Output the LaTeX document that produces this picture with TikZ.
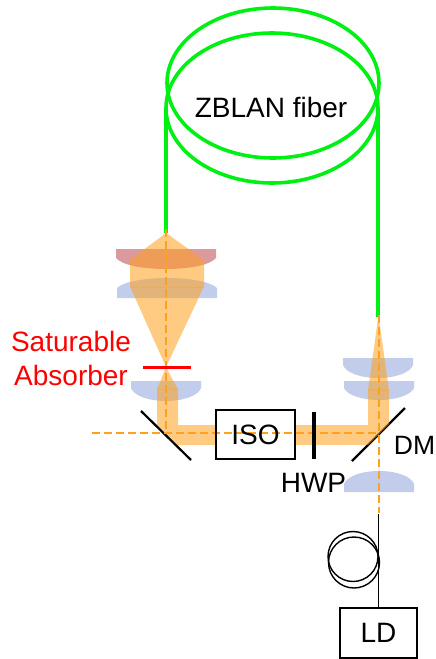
\documentclass[tikz,border=0pt]{standalone}
\usepackage{amsmath}
\usepackage{fontspec}
\setmainfont{Liberation Sans}
\usetikzlibrary{arrows}

\definecolor{fibergreen}{RGB}{0,240,20}
\definecolor{beamorange}{RGB}{255,160,30}
\definecolor{lensblue}{RGB}{68,104,190}
\definecolor{lensred}{RGB}{175,30,40}

\begin{document}
\begin{tikzpicture}[x=1pt,y=-1pt,semithick,
                    fiber/.style={draw=fibergreen,line width=3.6pt},
                    beam/.style={fill=beamorange,fill opacity=.55,draw=none},
                    axis/.style={draw=beamorange,line width=2pt,dash pattern=on 8pt off 4pt},
                    bluelens/.style={fill=lensblue,fill opacity=.33,draw=none},
                    redlens/.style={fill=lensred,fill opacity=.45,draw=none},
                    mirror/.style={draw=black,line width=2.2pt},
                    plate/.style={draw=black,line width=4pt},
                    box/.style={draw=black,line width=1.3pt,minimum width=79pt,minimum height=49pt,inner sep=0pt},
                    tag/.style={font=\fontsize{28}{30}\selectfont,inner sep=0pt},
                    wire/.style={draw=black,line width=1.4pt}]
 \useasboundingbox (0,0) rectangle (436,659);

 % fiber coil
 \coordinate (fibL)  at (166,108);
 \coordinate (fibR)  at (378,108);
 \coordinate (fibLe) at (166,233);
 \coordinate (fibRe) at (378,317);
 \draw [fiber] (273,83) ellipse [x radius=106pt,y radius=75pt];
 \draw [fiber] (272,108) ellipse [x radius=106pt,y radius=75pt];
 \draw [fiber] (fibL) -- (fibLe);
 \draw [fiber] (fibR) -- (fibRe);
 \node [tag] (zblan) at (271,107) {ZBLAN fiber};

 % lenses
 \path [redlens]  (116,249) -- (216,249) -- (216,258) .. controls (210,265) and (190,269) .. (166,269)
                  .. controls (142,269) and (122,265) .. (116,258) -- cycle;
 \path [bluelens] (117,298) -- (217,298) -- (217,288) .. controls (211,282) and (191,278) .. (167,278)
                  .. controls (143,278) and (123,282) .. (117,288) -- cycle;
 \path [bluelens] (131,381) -- (201,381) -- (201,388) .. controls (198,396) and (183,401) .. (166,401)
                  .. controls (149,401) and (134,396) .. (131,388) -- cycle;
 \path [bluelens] (343,358) -- (413,358) -- (413,365) .. controls (410,373) and (395,378) .. (378,378)
                  .. controls (361,378) and (346,373) .. (343,365) -- cycle;
 \path [bluelens] (344,381) -- (414,381) -- (414,388) .. controls (411,395) and (396,400) .. (379,400)
                  .. controls (362,400) and (347,395) .. (344,388) -- cycle;
 \path [bluelens] (344,492) -- (414,492) -- (414,484) .. controls (411,476) and (396,471) .. (379,471)
                  .. controls (362,471) and (347,476) .. (344,484) -- cycle;

 % mirrors
 \coordinate (mL1) at (141,411);
 \coordinate (mL2) at (191,460);
 \coordinate (mR1) at (352,461);
 \coordinate (mR2) at (405,408);
 \draw [mirror] (mR1) -- (mR2);

 % beam
 \path [beam] (166,233) -- (204,260) -- (204,287.5) -- (130,287.5) -- (130,260) -- cycle;
 \path [beam] (130,286.5) -- (204,286.5) -- (166,367) -- cycle;
 \path [beam] (166,367) -- (178,389.5) -- (157,389.5) -- cycle;
 \path [beam] (157,388.5) -- (178,388.5) -- (178,425) -- (216,425) -- (216,445) -- (176,445) -- (157,427) -- cycle;
 \path [beam] (295,425) -- (368,425) -- (368,445) -- (295,445) -- cycle;
 \path [beam] (378.5,315) -- (389,390.5) -- (368,390.5) -- cycle;
 \path [beam] (368,389.5) -- (389,389.5) -- (389,424) -- (368,445) -- cycle;

 \draw [mirror] (mL1) -- (mL2);

 % laser axis
 \coordinate (axL)  at (92,433);
 \coordinate (axM)  at (166,433);
 \coordinate (axR)  at (378.5,433);
 \coordinate (axT1) at (166,229);
 \coordinate (axT2) at (378.5,315);
 \coordinate (axB)  at (378.5,513);
 \draw [axis] (axL) -- (axR);
 \draw [axis] (axT1) -- (axM);
 \draw [axis] (axT2) -- (axB);

 % absorber and plate
 \coordinate (sa1) at (143,367.5);
 \coordinate (sa2) at (191,367.5);
 \coordinate (hw1) at (314,412);
 \coordinate (hw2) at (314,459);
 \draw [draw=red,line width=3.6pt] (sa1) -- (sa2);
 \draw [plate] (hw1) -- (hw2);

 % boxes
 \node [box,tag] (iso) at (255.5,434.5) {ISO};
 \node [box,tag,minimum width=77pt,minimum height=50pt] (ld) at (378.5,633) {LD};

 % pump line
 \coordinate (pump) at (378.5,514);
 \draw [wire] (pump) -- (ld.north);
 \draw [wire] (353,556.5) circle [radius=25pt];
 \draw [wire] (354,562.5) circle [radius=25.5pt];

 % labels
 \node [tag,text=red] (sat) at (71,341) {Saturable};
 \node [tag,text=red] (abs) at (71,375) {Absorber};
 \node [tag] (hwp) at (313.5,483) {HWP};
 \node [tag,font=\fontsize{26.5}{30}\selectfont,anchor=east] (dm) at (435.5,445) {DM};
\end{tikzpicture}
\end{document}
